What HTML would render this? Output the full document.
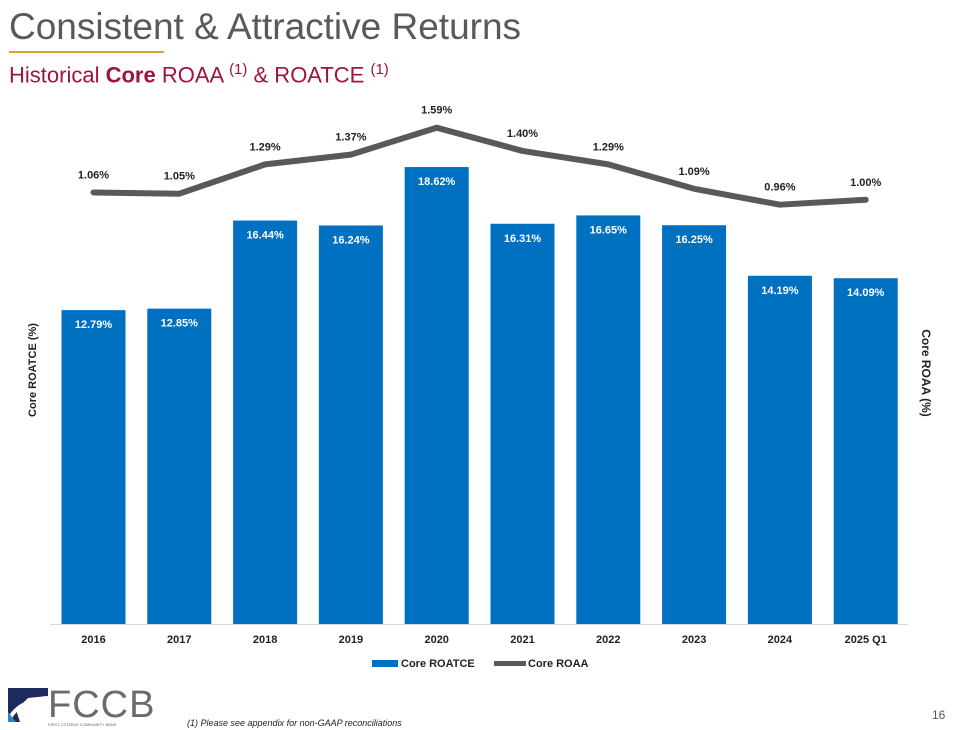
<!DOCTYPE html>
<html><head><meta charset="utf-8"><style>
body{margin:0;width:960px;height:730px;background:#fff;font-family:"Liberation Sans",Arial,sans-serif;overflow:hidden;position:relative}
.t{position:absolute}
</style></head><body>
<div class="t" style="left:9px;top:6px;font-size:37px;color:#595959">Consistent &amp; Attractive Returns</div>
<div class="t" style="left:9px;top:51px;width:155px;height:2px;background:#d9a441"></div>
<div class="t" style="left:9px;top:61px;font-size:22px;color:#a0123f">Historical <b>Core</b> ROAA <sup style="font-size:15px">(1)</sup> &amp; ROATCE <sup style="font-size:15px">(1)</sup></div>
<svg class="t" style="left:0;top:0" width="960" height="730" id="chart">
<g id="bars"></g><g id="line"></g><g id="labels"></g>
<text x="36" y="370" transform="rotate(-90 36 370)" text-anchor="middle" font-size="11" font-weight="bold" fill="#222">Core ROATCE (%)</text>
<text x="922" y="373" transform="rotate(90 922 373)" text-anchor="middle" font-size="12" font-weight="bold" fill="#222">Core ROAA (%)</text>
<line x1="50" y1="624.5" x2="908" y2="624.5" stroke="#d9d9d9"/>
<rect x="372" y="660" width="26" height="7" fill="#0070c0"/>
<text x="401" y="667" font-size="11" font-weight="bold" fill="#222">Core ROATCE</text>
<line x1="494" y1="663.5" x2="526" y2="663.5" stroke="#595959" stroke-width="5"/>
<text x="528" y="667" font-size="11" font-weight="bold" fill="#222">Core ROAA</text>
</svg>
<svg class="t" style="left:8px;top:688px" width="40" height="34">
<polygon points="0,0 40,0 40,8 20,10 8,22 12,34 0,34" fill="#1f2a5c"/>
<path d="M2,30 Q10,14 38,10" stroke="#fff" stroke-width="4" fill="none"/>
<polygon points="0,34 0,24 8,34" fill="#2e86c8"/>
</svg>
<div class="t" style="left:48px;top:684px;font-size:38px;color:#6b6b6b;letter-spacing:1px">FCCB</div>
<div class="t" style="left:48px;top:722px;font-size:4px;color:#666">FIRST CITIZENS COMMUNITY BANK</div>
<div class="t" style="left:187px;top:718px;font-size:9px;font-style:italic;color:#222">(1) Please see appendix for non-GAAP reconciliations</div>
<div class="t" style="left:932px;top:708px;font-size:12px;color:#555">16</div>
<script>
const categories=["2016","2017","2018","2019","2020","2021","2022","2023","2024","2025 Q1"];
const roatce=[12.79,12.85,16.44,16.24,18.62,16.31,16.65,16.25,14.19,14.09];
const roaa=[1.06,1.05,1.29,1.37,1.59,1.40,1.29,1.09,0.96,1.00];
const roatceLabels=["12.79%","12.85%","16.44%","16.24%","18.62%","16.31%","16.65%","16.25%","14.19%","14.09%"];
const roaaLabels=["1.06%","1.05%","1.29%","1.37%","1.59%","1.40%","1.29%","1.09%","0.96%","1.00%"];
const NS="http://www.w3.org/2000/svg";
const xc=i=>93.5+i*85.8;
const yBar=v=>624-v*24.54;
const yLine=v=>322-v*122.2;
function mk(t,a,p){const e=document.createElementNS(NS,t);for(const k in a)e.setAttribute(k,a[k]);p.appendChild(e);return e;}
const gb=document.getElementById('bars'),gl=document.getElementById('line'),gt=document.getElementById('labels'),svg=document.getElementById('chart');
categories.forEach((c,i)=>{
 const r=mk('rect',{x:xc(i)-32,y:yBar(roatce[i]),width:64,height:624-yBar(roatce[i]),fill:'#0070c0'},gb);
 
 
 const t=mk('text',{x:xc(i),y:yBar(roatce[i])+18,'text-anchor':'middle','font-size':11,'font-weight':'bold',fill:'#fff'},gt);
 t.textContent=roatceLabels[i];
 
 
 const l=mk('text',{x:xc(i),y:yLine(roaa[i])-14,'text-anchor':'middle','font-size':11,'font-weight':'bold',fill:'#222'},gt);
 l.textContent=roaaLabels[i];
 
 
 const x=mk('text',{x:xc(i),y:643,'text-anchor':'middle','font-size':11,'font-weight':'bold',fill:'#222'},svg);
 x.textContent=c;
 
 
});
const pl=mk('polyline',{points:roaa.map((v,i)=>xc(i)+','+yLine(v)).join(' '),fill:'none',stroke:'#595959','stroke-width':6,'stroke-linejoin':'round','stroke-linecap':'round'},gl);


</script>
</body></html>
